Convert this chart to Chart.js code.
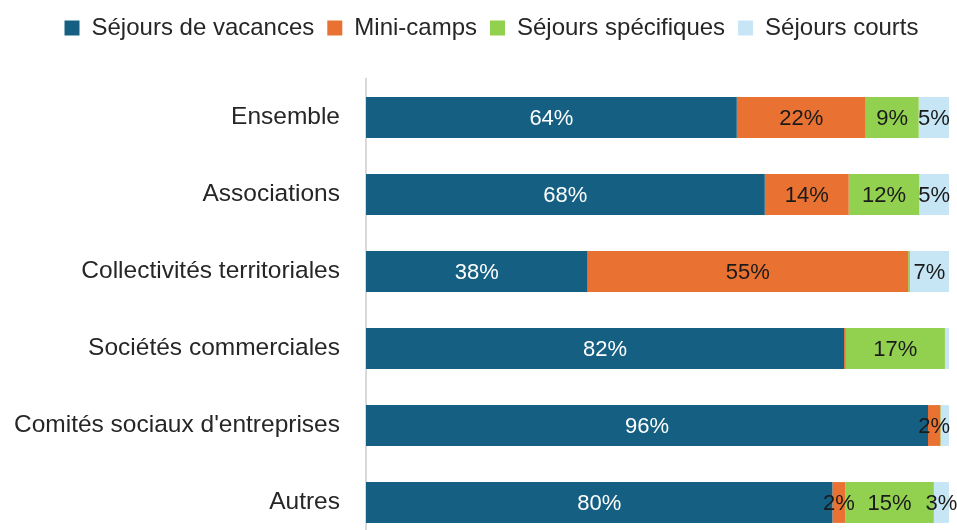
<!DOCTYPE html>
<html>
<head>
<meta charset="utf-8">
<script src="https://cdn.jsdelivr.net/npm/chart.js@4.4.1/dist/chart.umd.min.js"></script>
<style>
  html, body { margin: 0; padding: 0; background: #fff; overflow: hidden; }
  body { width: 957px; height: 530px; }
  canvas { display: block; }
</style>
</head>
<body>
<canvas id="chart" width="957" height="541"></canvas>
<script>
// categories (top to bottom)
const categories = [
  "Ensemble",
  "Associations",
  "Collectivités territoriales",
  "Sociétés commerciales",
  "Comités sociaux d'entreprises",
  "Autres"
];
const seriesNames = ["Séjours de vacances", "Mini-camps", "Séjours spécifiques", "Séjours courts"];

// shares in %
const sejoursVacances    = [63.6, 68.4, 38, 82, 96.4, 80];
const miniCamps          = [22.1, 14.4, 55, 0.3, 2.1, 2.2];
const sejoursSpecifiques = [9.1, 12.1, 0.3, 17, 0.1, 15.2];
const sejoursCourts      = [5.2, 5.1, 6.7, 0.7, 1.4, 2.6];

const colors = ["#156082", "#E97132", "#92D050", "#C6E6F6"];
const labelColors = ["#ffffff", "#1a1a1a", "#1a1a1a", "#1a1a1a"];

// draw the % value in the middle of each segment (slivers get no label)
const segmentLabels = {
  id: "segmentLabels",
  afterLayout(chart) {
    // legend sits a bit right of the canvas centre in the original
    chart.legend.left += 12;
    chart.legend.right += 12;
  },
  afterDatasetsDraw(chart) {
    const ctx = chart.ctx;
    ctx.save();
    ctx.font = "22px 'Liberation Sans', Arial, sans-serif";
    ctx.textAlign = "center";
    ctx.textBaseline = "middle";
    chart.data.datasets.forEach(function (ds, i) {
      const meta = chart.getDatasetMeta(i);
      meta.data.forEach(function (bar, j) {
        const v = ds.data[j];
        if (v < 2) return;
        const p = bar.getCenterPoint();
        ctx.fillStyle = labelColors[i];
        ctx.fillText(Math.round(v) + "%", p.x, p.y + 1);
      });
    });
    ctx.restore();
  }
};

const ctx = document.getElementById("chart").getContext("2d");
new Chart(ctx, {
  type: "bar",
  data: {
    labels: categories,
    datasets: [sejoursVacances, miniCamps, sejoursSpecifiques, sejoursCourts].map(function (d, i) {
      return {
        label: seriesNames[i],
        data: d,
        backgroundColor: colors[i],
        borderWidth: 0,
        barPercentage: 0.53,
        categoryPercentage: 1
      };
    })
  },
  options: {
    indexAxis: "y",
    responsive: false,
    animation: false,
    layout: { padding: { left: 10, right: 8, top: 3, bottom: 0 } },
    plugins: {
      legend: {
        position: "top",
        labels: {
          boxWidth: 15,
          boxHeight: 15,
          padding: 13,
          color: "#262626",
          font: { family: "'Liberation Sans', Arial, sans-serif", size: 24 }
        }
      },
      tooltip: { enabled: false }
    },
    scales: {
      x: {
        stacked: true,
        min: 0,
        max: 100,
        position: "top",
        ticks: { display: false },
        grid: { display: false },
        border: { display: false },
        afterFit: function (scale) { scale.height = 29; }
      },
      y: {
        stacked: true,
        grid: { display: false, drawTicks: true, tickLength: 26 },
        border: { display: true, color: "#D9D9D9", width: 2 },
        ticks: {
          padding: 0,
          color: "#262626",
          font: { family: "'Liberation Sans', Arial, sans-serif", size: 24.5 }
        },
        afterFit: function (scale) {
          scale.width = 356;
          // the plot runs off the bottom edge in the original
          scale.paddingTop = 0;
          scale.paddingBottom = 0;
        }
      }
    }
  },
  plugins: [segmentLabels]
});
</script>
</body>
</html>
